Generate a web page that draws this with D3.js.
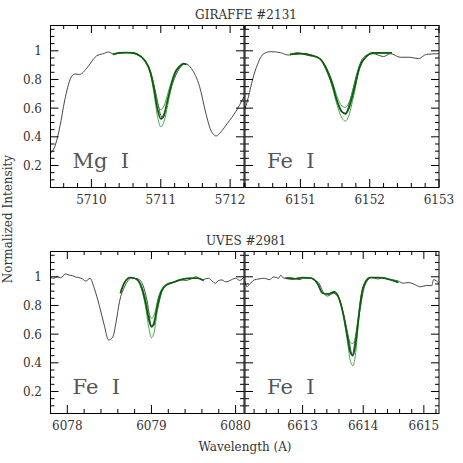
<!DOCTYPE html>
<html>
<head>
<meta charset="utf-8">
<script src="https://cdn.jsdelivr.net/npm/d3@7"></script>
<style>
  body { margin: 0; background: #fff; }
  svg { display: block; }
  text { font-family: "DejaVu Serif", "Liberation Serif", serif; }
</style>
</head>
<body>
<div id="chart"></div>
<script>
// Data

// GIRAFFE #2131, Mg I 5711
const mgObsWl = [5709.41, 5709.47, 5709.545, 5709.616, 5709.70, 5709.76, 5709.83, 5709.93, 5710.07, 5710.17, 5710.25, 5710.32, 5710.41, 5710.55, 5710.65, 5710.79, 5710.86, 5710.93, 5711.0, 5711.03, 5711.10, 5711.17, 5711.27, 5711.35, 5711.44, 5711.56, 5711.65, 5711.72, 5711.80, 5711.87, 5711.96, 5712.08, 5712.2];
const mgObsFlux = [0.285, 0.33, 0.47, 0.657, 0.808, 0.838, 0.835, 0.877, 0.963, 0.98, 0.992, 0.976, 0.985, 0.988, 0.974, 0.917, 0.84, 0.70, 0.55, 0.53, 0.657, 0.773, 0.877, 0.91, 0.877, 0.75, 0.564, 0.448, 0.406, 0.436, 0.494, 0.575, 0.68];
const mgSynWl = [5710.31, 5710.4, 5710.5, 5710.6, 5710.7, 5710.78, 5710.85, 5710.9, 5710.95, 5711.0, 5711.05, 5711.1, 5711.15, 5711.2, 5711.27, 5711.33, 5711.37];
const mgSynBest = [0.975, 0.985, 0.988, 0.985, 0.965, 0.925, 0.85, 0.74, 0.6, 0.525, 0.56, 0.66, 0.76, 0.84, 0.89, 0.91, 0.905];
const mgSynWeak = [0.975, 0.985, 0.988, 0.985, 0.967, 0.93, 0.86, 0.76, 0.64, 0.59, 0.62, 0.70, 0.78, 0.85, 0.895, 0.91, 0.905];
const mgSynStrong = [0.975, 0.985, 0.988, 0.985, 0.963, 0.92, 0.84, 0.71, 0.55, 0.47, 0.51, 0.62, 0.74, 0.83, 0.885, 0.91, 0.905];

// GIRAFFE #2131, Fe I 6151
const fe6151ObsWl = [6150.2, 6150.25, 6150.31, 6150.38, 6150.47, 6150.57, 6150.71, 6150.83, 6150.95, 6151.09, 6151.27, 6151.36, 6151.43, 6151.52, 6151.6, 6151.65, 6151.72, 6151.79, 6151.86, 6151.96, 6152.05, 6152.2, 6152.3, 6152.44, 6152.58, 6152.7, 6152.82, 6153.0];
const fe6151ObsFlux = [0.593, 0.68, 0.80, 0.905, 0.98, 0.994, 0.987, 0.97, 0.987, 0.97, 0.947, 0.877, 0.795, 0.657, 0.57, 0.565, 0.657, 0.795, 0.91, 0.97, 0.98, 0.96, 0.98, 0.955, 0.955, 0.945, 0.975, 0.98];
const fe6151SynWl = [6150.85, 6151.0, 6151.15, 6151.28, 6151.38, 6151.46, 6151.53, 6151.6, 6151.65, 6151.7, 6151.77, 6151.85, 6151.95, 6152.05, 6152.2, 6152.32];
const fe6151SynBest = [0.975, 0.98, 0.97, 0.945, 0.87, 0.77, 0.65, 0.575, 0.56, 0.6, 0.72, 0.88, 0.96, 0.985, 0.985, 0.985];
const fe6151SynWeak = [0.975, 0.98, 0.97, 0.945, 0.875, 0.785, 0.68, 0.615, 0.605, 0.64, 0.75, 0.89, 0.962, 0.985, 0.985, 0.985];
const fe6151SynStrong = [0.975, 0.98, 0.97, 0.945, 0.865, 0.75, 0.62, 0.53, 0.51, 0.55, 0.69, 0.87, 0.958, 0.985, 0.985, 0.985];

// UVES #2981, Fe I 6079
const fe6079ObsWl = [6077.8, 6077.84, 6077.88, 6077.92, 6077.98, 6078.02, 6078.06, 6078.1, 6078.14, 6078.18, 6078.22, 6078.27, 6078.32, 6078.38, 6078.44, 6078.49, 6078.54, 6078.58, 6078.62, 6078.68, 6078.76, 6078.84, 6078.9, 6078.95, 6079.0, 6079.03, 6079.07, 6079.15, 6079.23, 6079.29, 6079.35, 6079.41, 6079.47, 6079.53, 6079.6, 6079.64, 6079.68, 6079.72, 6079.76, 6079.8, 6079.84, 6079.88, 6079.92, 6079.96, 6080.0, 6080.05, 6080.1];
const fe6079ObsFlux = [0.994, 0.99, 1.0, 0.994, 1.02, 1.012, 1.008, 0.998, 0.994, 0.985, 0.97, 0.99, 0.92, 0.80, 0.66, 0.559, 0.58, 0.687, 0.826, 0.93, 0.99, 0.985, 0.94, 0.826, 0.66, 0.66, 0.826, 0.93, 0.955, 0.965, 0.978, 0.975, 0.985, 1.0, 0.978, 0.985, 0.99, 0.97, 0.955, 0.975, 0.978, 0.965, 0.97, 0.982, 0.99, 0.975, 1.0];
const fe6079SynWl = [6078.63, 6078.68, 6078.75, 6078.82, 6078.88, 6078.93, 6078.97, 6079.0, 6079.03, 6079.07, 6079.12, 6079.18, 6079.25, 6079.35, 6079.45, 6079.55, 6079.62];
const fe6079SynBest = [0.885, 0.96, 0.995, 0.985, 0.93, 0.82, 0.7, 0.65, 0.68, 0.79, 0.9, 0.945, 0.96, 0.98, 0.99, 0.99, 0.975];
const fe6079SynWeak = [0.885, 0.96, 0.995, 0.985, 0.94, 0.85, 0.75, 0.71, 0.73, 0.82, 0.91, 0.945, 0.96, 0.98, 0.99, 0.99, 0.975];
const fe6079SynStrong = [0.885, 0.96, 0.995, 0.985, 0.92, 0.79, 0.64, 0.575, 0.61, 0.76, 0.89, 0.945, 0.96, 0.98, 0.99, 0.99, 0.975];

// UVES #2981, Fe I 6614
const fe6614ObsWl = [6612.05, 6612.08, 6612.12, 6612.2, 6612.28, 6612.37, 6612.45, 6612.53, 6612.6, 6612.64, 6612.69, 6612.78, 6612.86, 6612.94, 6613.02, 6613.13, 6613.2, 6613.27, 6613.35, 6613.41, 6613.51, 6613.6, 6613.68, 6613.76, 6613.82, 6613.87, 6613.95, 6614.03, 6614.14, 6614.24, 6614.33, 6614.42, 6614.5, 6614.58, 6614.66, 6614.74, 6614.8, 6614.88, 6614.94, 6615.05, 6615.13, 6615.16, 6615.25];
const fe6614ObsFlux = [0.966, 0.93, 0.945, 0.978, 0.985, 0.99, 0.98, 1.0, 0.99, 1.01, 0.99, 0.995, 0.99, 0.98, 0.99, 0.99, 0.975, 0.955, 0.885, 0.866, 0.885, 0.85, 0.734, 0.57, 0.455, 0.57, 0.78, 0.943, 0.994, 0.985, 0.994, 0.985, 0.978, 0.97, 0.955, 0.96, 0.955, 0.94, 0.93, 0.94, 0.938, 0.98, 0.955];
const fe6614SynWl = [6612.72, 6612.85, 6613.0, 6613.15, 6613.25, 6613.33, 6613.42, 6613.52, 6613.6, 6613.67, 6613.74, 6613.79, 6613.83, 6613.87, 6613.92, 6613.97, 6614.03, 6614.12, 6614.25, 6614.4, 6614.58];
const fe6614SynBest = [0.99, 0.985, 0.995, 0.99, 0.95, 0.885, 0.88, 0.895, 0.85, 0.74, 0.58, 0.47, 0.45, 0.52, 0.7, 0.87, 0.96, 0.995, 0.995, 0.985, 0.96];
const fe6614SynWeak = [0.99, 0.985, 0.995, 0.99, 0.95, 0.885, 0.88, 0.895, 0.85, 0.745, 0.6, 0.54, 0.535, 0.58, 0.73, 0.88, 0.96, 0.995, 0.995, 0.985, 0.96];
const fe6614SynStrong = [0.99, 0.985, 0.995, 0.99, 0.95, 0.885, 0.88, 0.895, 0.85, 0.735, 0.55, 0.41, 0.38, 0.45, 0.67, 0.86, 0.96, 0.995, 0.995, 0.985, 0.96];

// axis ticks / labels
const yTickLabels = [0.2, 0.4, 0.6, 0.8, 1];
const mgTicks = [5710, 5711, 5712];
const fe6151Ticks = [6151, 6152, 6153];
const fe6079Ticks = [6078, 6079, 6080];
const fe6614Ticks = [6613, 6614, 6615];
const rowTitles = ["GIRAFFE #2131", "UVES #2981"];
const lineLabels = ["Mg  I", "Fe  I", "Fe  I", "Fe  I"];

// layout
const W = 463, H = 463;
const yDomain = [0.05, 1.18];
const rows = [{top: 25, bottom: 187}, {top: 251, bottom: 413}];
const cols = [{left: 50.5, right: 244}, {left: 245, right: 439}];

const zip = (wl, fl) => wl.map((w, i) => [w, fl[i]]);

const panels = [
  {row: 0, col: 0, domain: [5709.41, 5712.2], ticks: mgTicks,
   obs: zip(mgObsWl, mgObsFlux),
   syn: [zip(mgSynWl, mgSynWeak), zip(mgSynWl, mgSynStrong), zip(mgSynWl, mgSynBest)]},
  {row: 0, col: 1, domain: [6150.2, 6153.0], ticks: fe6151Ticks,
   obs: zip(fe6151ObsWl, fe6151ObsFlux),
   syn: [zip(fe6151SynWl, fe6151SynWeak), zip(fe6151SynWl, fe6151SynStrong), zip(fe6151SynWl, fe6151SynBest)]},
  {row: 1, col: 0, domain: [6077.8, 6080.1], ticks: fe6079Ticks,
   obs: zip(fe6079ObsWl, fe6079ObsFlux),
   syn: [zip(fe6079SynWl, fe6079SynWeak), zip(fe6079SynWl, fe6079SynStrong), zip(fe6079SynWl, fe6079SynBest)]},
  {row: 1, col: 1, domain: [6612.05, 6615.25], ticks: fe6614Ticks,
   obs: zip(fe6614ObsWl, fe6614ObsFlux),
   syn: [zip(fe6614SynWl, fe6614SynWeak), zip(fe6614SynWl, fe6614SynStrong), zip(fe6614SynWl, fe6614SynBest)]}
];

const svg = d3.select("#chart").append("svg")
  .attr("width", W)
  .attr("height", H);

panels.forEach(function(p, i) {
  const r = rows[p.row], c = cols[p.col];
  const x = d3.scaleLinear().domain(p.domain).range([c.left, c.right]);
  const y = d3.scaleLinear().domain(yDomain).range([r.bottom, r.top]);
  const g = svg.append("g");

  // clip
  svg.append("clipPath").attr("id", "clip" + i)
    .append("rect")
      .attr("x", c.left).attr("y", r.top)
      .attr("width", c.right - c.left).attr("height", r.bottom - r.top);

  const line = d3.line().x(d => x(d[0])).y(d => y(d[1])).curve(d3.curveMonotoneX);
  const plot = g.append("g").attr("clip-path", "url(#clip" + i + ")");

  plot.append("path")
    .attr("d", line(p.obs))
    .attr("fill", "none")
    .attr("stroke", "#333")
    .attr("stroke-width", 0.9);

  p.syn.forEach(function(s, k) {
    plot.append("path")
      .attr("d", line(s))
      .attr("fill", "none")
      .attr("stroke", k == 2 ? "#0b5e0b" : "#3a9a3a")
      .attr("stroke-width", k == 2 ? 1.7 : 0.9);
  });

  // ticks - minor every 0.2 A, major every 1 A
  const xMinor = d3.range(Math.ceil(p.domain[0] * 5), Math.floor(p.domain[1] * 5) + 1).map(v => v / 5);
  xMinor.forEach(function(v) {
    const major = Math.abs(v - Math.round(v)) < 1e-6;
    const len = major ? 8 : 4;
    g.append("line").attr("x1", x(v)).attr("x2", x(v)).attr("y1", r.bottom).attr("y2", r.bottom - len)
      .attr("stroke", "#000").attr("stroke-width", 1);
    g.append("line").attr("x1", x(v)).attr("x2", x(v)).attr("y1", r.top).attr("y2", r.top + len)
      .attr("stroke", "#000").attr("stroke-width", 1);
  });
  const yMinor = d3.range(2, 24).map(v => v / 20);
  yMinor.forEach(function(v) {
    const major = yTickLabels.some(t => Math.abs(t - v) < 1e-6);
    const len = major ? 8 : 4;
    g.append("line").attr("x1", c.left).attr("x2", c.left + len).attr("y1", y(v)).attr("y2", y(v))
      .attr("stroke", "#000").attr("stroke-width", 1);
    g.append("line").attr("x1", c.right).attr("x2", c.right - len).attr("y1", y(v)).attr("y2", y(v))
      .attr("stroke", "#000").attr("stroke-width", 1);
  });

  // frame
  g.append("rect")
    .attr("x", c.left).attr("y", r.top + 0.5)
    .attr("width", c.right - c.left).attr("height", r.bottom - r.top)
    .attr("fill", "none").attr("stroke", "#000").attr("stroke-width", 1);

  // x tick labels
  g.selectAll(".xl").data(p.ticks).enter().append("text")
    .attr("x", d => x(d))
    .attr("y", r.bottom + 17)
    .attr("text-anchor", "middle")
    .attr("font-size", 12)
    .attr("fill", "#333")
    .text(d => d);

  // y tick labels (left column only)
  if (p.col == 0) {
    g.selectAll(".yl").data(yTickLabels).enter().append("text")
      .attr("x", 42)
      .attr("y", d => y(d) + 4.5)
      .attr("text-anchor", "end")
      .attr("font-size", 12)
      .attr("fill", "#333")
      .text(d => d);
  }

  // line label
  g.append("text")
    .attr("x", c.left + 22)
    .attr("y", r.bottom - 19)
    .attr("font-family", "Liberation Serif")
    .attr("font-size", 21)
    .attr("fill", "#555")
    .style("white-space", "pre")
    .text(lineLabels[i]);
});

// row titles
rowTitles.forEach(function(t, k) {
  svg.append("text")
    .attr("x", 246)
    .attr("y", rows[k].top - 6)
    .attr("text-anchor", "middle")
    .attr("font-size", 12)
    .attr("fill", "#333")
    .text(t);
});

// axis titles
svg.append("text")
  .attr("x", 245)
  .attr("y", 451)
  .attr("text-anchor", "middle")
  .attr("font-size", 12)
  .attr("fill", "#333")
  .text("Wavelength (A)");

svg.append("text")
  .attr("transform", "translate(12,219) rotate(-90)")
  .attr("text-anchor", "middle")
  .attr("font-size", 12)
  .attr("fill", "#333")
  .text("Normalized Intensity");
</script>
</body>
</html>
